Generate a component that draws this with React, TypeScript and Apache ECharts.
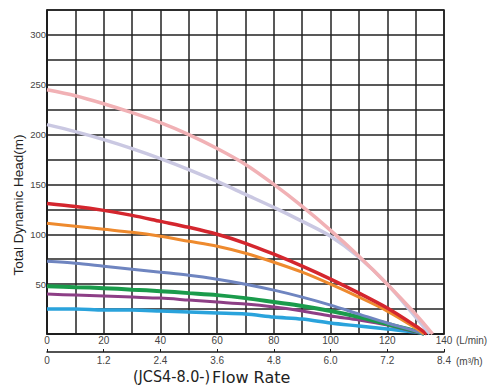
import React, { useEffect, useRef } from "react";
import * as echarts from "echarts";

const flow = [0, 10, 20, 30, 40, 50, 60, 70, 80, 90, 100, 110, 120, 130];

const pink = [245, 239, 231, 222, 212, 200, 186, 170, 150, 128, 104, 78, 50, 20];
const lavender = [210, 203, 195, 186, 176, 165, 153, 140, 127, 113, 98, 77, 50, 17];
const red = [131, 128, 124, 119, 113, 107, 100, 91, 80, 68, 55, 41, 26, 8];
const orange = [111, 108, 105, 102, 98, 93, 88, 81, 72, 62, 50, 37, 23, 6];
const slate = [73, 71, 68, 65, 62, 59, 55, 50, 44, 37, 29, 20, 11, 3];
const green = [48, 47, 46, 44.5, 43, 41, 39, 36, 32, 28, 23, 17, 10, 3];
const purple = [40, 39, 38, 37, 36, 34, 32, 30, 27, 23, 18, 14, 9, 2];
const cyan = [25, 25, 24, 24, 23, 22, 21, 20, 17, 15, 11, 8, 5, 2];

const endFlow = [136, 135, 134, 133, 133, 133, 133, 133];

const curves = [
  { name: "cyan", values: cyan, end: endFlow[7], color: "#2aa3dc", width: 3.5 },
  { name: "purple", values: purple, end: endFlow[6], color: "#8d3f86", width: 3 },
  { name: "green", values: green, end: endFlow[5], color: "#1a9b4b", width: 4 },
  { name: "slate", values: slate, end: endFlow[4], color: "#6f85c0", width: 3 },
  { name: "orange", values: orange, end: endFlow[3], color: "#ee8a2e", width: 3 },
  { name: "red", values: red, end: endFlow[2], color: "#d4262e", width: 3.5 },
  { name: "lavender", values: lavender, end: endFlow[1], color: "#cac8e2", width: 3.5 },
  { name: "pink", values: pink, end: endFlow[0], color: "#f1b1b5", width: 3.5 },
];

export default function App() {
  const ref = useRef<HTMLDivElement>(null);
  useEffect(() => {
    if (!ref.current) return;
    const chart = echarts.init(ref.current, undefined, { renderer: "svg" });
    const series = curves.map((c) => ({
      type: "line",
      name: c.name,
      xAxisIndex: 0,
      yAxisIndex: 0,
      smooth: 0.3,
      symbol: "none",
      clip: true,
      lineStyle: { color: c.color, width: c.width },
      data: [...flow.map((f, i) => [f, c.values[i]]), [c.end, 0]],
    }));
    chart.setOption({
      animation: false,
      backgroundColor: "#ffffff",
      grid: { left: 47, right: 52, top: 10, bottom: 53, show: false },
      xAxis: [
        {
          type: "value",
          min: 0,
          max: 140,
          interval: 10,
          axisLine: { show: true, onZero: false, lineStyle: { color: "#1a1a1a", width: 1.5 } },
          axisTick: { show: false },
          splitLine: { show: true, lineStyle: { color: "#222", width: 1.5 } },
          axisLabel: {
            color: "#444",
            fontSize: 10,
            fontFamily: "Liberation Sans, Arial, sans-serif",
            margin: 1,
            showMaxLabel: true,
            formatter: (v: number) => (v % 20 === 0 ? String(v) : ""),
          },
        },
        {
          type: "value",
          position: "bottom",
          offset: 18,
          min: 0,
          max: 8.4,
          interval: 1.2,
          axisLine: { show: true, onZero: false, lineStyle: { color: "#1a1a1a", width: 1.5 } },
          axisTick: { show: true, inside: true, length: 3, lineStyle: { color: "#1a1a1a" } },
          splitLine: { show: false },
          axisLabel: {
            color: "#444",
            fontSize: 10,
            fontFamily: "Liberation Sans, Arial, sans-serif",
            margin: 3,
            showMaxLabel: true,
            formatter: (v: number) => (Math.abs(v) < 1e-6 ? "0" : v.toFixed(1)),
          },
        },
      ],
      yAxis: {
        type: "value",
        min: 0,
        max: 325,
        interval: 25,
        axisLine: { show: true, lineStyle: { color: "#1a1a1a", width: 1.5 } },
        axisTick: { show: false },
        splitLine: { show: true, lineStyle: { color: "#222", width: 1.5 } },
        axisLabel: {
          color: "#444",
          fontSize: 9.5,
          fontFamily: "Liberation Sans, Arial, sans-serif",
          margin: 1,
          formatter: (v: number) => (v > 0 && v % 50 === 0 ? String(v) : ""),
        },
      },
      graphic: [
        {
          type: "rect",
          shape: { x: 47, y: 10, width: 397, height: 324 },
          style: { fill: "none", stroke: "#1a1a1a", lineWidth: 1.5 },
          silent: true,
        },
        {
          type: "text",
          x: 18,
          y: 205,
          rotation: Math.PI / 2,
          style: {
            text: "Total Dynamic Head(m)",
            fontSize: 13.5,
            fontFamily: "Liberation Sans, Arial, sans-serif",
            fill: "#222",
            align: "center",
            verticalAlign: "middle",
          },
        },
        {
          type: "text",
          x: 456,
          y: 340,
          style: {
            text: "(L/min)",
            fontSize: 10,
            fontFamily: "Liberation Sans, Arial, sans-serif",
            fill: "#444",
            align: "left",
            verticalAlign: "middle",
          },
        },
        {
          type: "text",
          x: 456,
          y: 361,
          style: {
            text: "(m³/h)",
            fontSize: 10,
            fontFamily: "Liberation Sans, Arial, sans-serif",
            fill: "#444",
            align: "left",
            verticalAlign: "middle",
          },
        },
        {
          type: "text",
          x: 133,
          y: 376,
          style: {
            text: "(JCS4-8.0-)",
            fontSize: 16,
            fontFamily: "Liberation Sans Narrow, DejaVu Sans Condensed, sans-serif",
            fill: "#222",
            align: "left",
            verticalAlign: "middle",
          },
        },
        {
          type: "text",
          x: 212,
          y: 377,
          style: {
            text: "Flow Rate",
            fontSize: 16,
            fontFamily: "DejaVu Sans, sans-serif",
            fill: "#222",
            align: "left",
            verticalAlign: "middle",
          },
        },
      ],
      series,
    });
    return () => chart.dispose();
  }, []);
  return <div ref={ref} style={{ width: 496, height: 387, position: "absolute", left: 0, top: 0 }} />;
}
